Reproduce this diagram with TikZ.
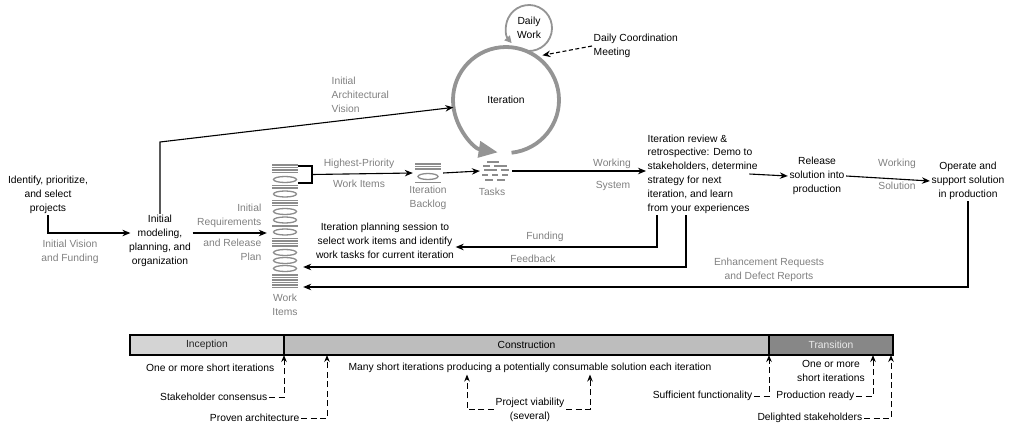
\documentclass[tikz,border=0pt]{standalone}
\usepackage{fontspec}
\setmainfont{Liberation Sans}
\usetikzlibrary{arrows.meta}

\definecolor{lblgray}{gray}{0.5}
\definecolor{icongray}{gray}{0.55}
\definecolor{loopgray}{gray}{0.58}
\definecolor{incepfill}{gray}{0.83}
\definecolor{constfill}{gray}{0.74}
\definecolor{transfill}{gray}{0.53}

\tikzset{
  txt/.style={shape=rectangle, draw=none, align=center, inner sep=1.5pt},
  lbl/.style={txt, text=lblgray},
  flow/.style={-{Stealth[length=8pt,width=6.5pt]}, line width=1.1pt},
  gate/.style={-{Stealth[length=7pt,width=5.5pt]}, line width=1pt, dash pattern=on 6pt off 3.5pt},
  icon/.style={draw=icongray, line width=1.3pt},
  phase/.style={shape=rectangle, draw=black, line width=1.2pt, minimum height=20pt, inner sep=0pt, outer sep=0pt},
}

\begin{document}
\begin{tikzpicture}[x=1pt, y=-1pt, font=\fontsize{10.3}{13.8}\selectfont]
\useasboundingbox (0,0) rectangle (1012,429);
%%%%%%%%%%%%%%%%%%%%%%%%%%%%%%%%%%%%%%%%%%% HELP LINES
%\draw[help lines, step=50] (0,0) grid (1012,429);

%%%%%%%%%%%%%%%%%%%%%%%%%%%%%%%%%%%%%%%%%%% start of the project
\node[txt](ident) at (48,195){Identify, prioritize,\\and select\\projects};
\node[txt](model) at (160,241){Initial\\modeling,\\planning, and\\organization};
\node[lbl](vision) at (70,251.5){Initial Vision\\and Funding};
\node[lbl, anchor=west, align=left](archvis) at (330,95){Initial\\Architectural\\Vision};
\node[lbl, anchor=east, align=right](reqs) at (263,216){Initial\\Requirements};
\node[lbl, anchor=east, align=right](relplan) at (263,250){and Release\\Plan};
\coordinate (archbend) at (160,142);

%%%%%%%%%%%%%%%%%%%%%%%%%%%%%%%%%%%%%%%%%%% work item stack
\node[shape=rectangle, draw=none, minimum width=36pt, minimum height=125pt](wi) at (285,226.5){};
\foreach \y in {165,167.5,170,172.5,185.5,188,200.5,203,205.5,226,238.5,241,243.5,246,275,277.5,280,282.5,285,287.5}
  \draw[icon] (272,\y) -- (298,\y);
\foreach \y in {179.5,194,211.5,220,232,252.5,260.5,268.5}
  \draw[icon] (285,\y) ellipse [x radius=11.5, y radius=3];
\node[lbl](wilbl) at (285,304.5){Work\\Items};
% bracket round the top items
\draw[line width=1.1pt] (298,166) -- (312,166) -- (312,183) -- (298,183);
\coordinate (hp) at (312,174.5);
\node[lbl](hiprio) at (359,164){Highest-Priority};
\node[lbl](hiitems) at (359,184){Work Items};

%%%%%%%%%%%%%%%%%%%%%%%%%%%%%%%%%%%%%%%%%%% backlog and tasks
\node[shape=rectangle, draw=none, minimum width=30pt, minimum height=24pt](backlog) at (428,173){};
\foreach \y in {164,166.5,169,182.5}
  \draw[icon] (415,\y) -- (441,\y);
\draw[icon] (428,176.5) ellipse [x radius=10, y radius=3];
\node[lbl](backlbl) at (428,198){Iteration\\Backlog};

\node[shape=rectangle, draw=none, minimum width=32pt, minimum height=24pt](tasks) at (496,171){};
\draw[icon] (487,162) -- (499,162);
\draw[icon] (483,166) -- (490,166) (494,166) -- (507,166);
\draw[icon] (484,170) -- (497,170) (501,170) -- (509,170);
\draw[icon] (482,175) -- (488,175) (492,175) -- (498,175) (502,175) -- (508,175);
\draw[icon] (485,180) -- (493,180) (497,180) -- (505,180);
\node[lbl](tasklbl) at (492,192){Tasks};

%%%%%%%%%%%%%%%%%%%%%%%%%%%%%%%%%%%%%%%%%%% iteration loops
\node[shape=circle, draw=none, minimum size=106pt, inner sep=0pt](iter) at (506,100){Iteration};
\draw[loopgray, line width=3.8pt, -{Triangle[length=19pt,width=16pt]}] (iter.center) ++(84:53) arc[start angle=84, end angle=-261, radius=53];
\node[txt, shape=circle, minimum size=46pt, inner sep=0pt](daily) at (529,28){Daily\\Work};
\draw[loopgray, line width=1.8pt, -{Triangle[length=7pt,width=7pt]}] (daily.center) ++(-245:23) arc[start angle=-245, end angle=-581, radius=23];
\node[txt, anchor=west, align=left](meet) at (592,46){Daily Coordination\\Meeting};

%%%%%%%%%%%%%%%%%%%%%%%%%%%%%%%%%%%%%%%%%%% review and release
\node[txt, anchor=west, align=left](review) at (646,174){Iteration review \&\\retrospective: Demo to\\stakeholders, determine\\strategy for next\\iteration, and learn\\from your experiences};
\node[lbl](worksys) at (612,164){Working};
\node[lbl](worksys2) at (613,186){System};
\node[txt](plan) at (385,241){Iteration planning session to\\select work items and identify\\work tasks for current iteration};
\node[lbl](fundlbl) at (545,237){Funding};
\node[lbl](feedlbl) at (533,259){Feedback};
\node[txt](release) at (817,176){Release\\solution into\\production};
\node[lbl](worksol) at (897,164){Working};
\node[lbl](worksol2) at (897,186){Solution};
\node[txt](operate) at (968,181){Operate and\\support solution\\in production};
\node[lbl](enhance) at (769,270){Enhancement Requests\\and Defect Reports};

%%%%%%%%%%%%%%%%%%%%%%%%%%%%%%%%%%%%%%%%%%% connectors
\draw[flow] (ident.south) |- ([yshift=8pt,xshift=3pt]model.west);
\draw[flow] (model.north) -- (archbend) -- (iter.188);
\draw[flow] ([yshift=8pt]model.east) -- ([yshift=8pt]model.east -| wi.west);
\draw[flow] (hp) -- (backlog.west);
\draw[flow] (backlog.east) -- (tasks.west);
\draw[flow] (tasks.east) -- (tasks.east -| review.west);
\draw[flow, dash pattern=on 4pt off 2.5pt, shorten >=6pt] (meet.west) -- (iter.55);
\draw[flow] ([xshift=-10pt]review.east) -- (release.west);
\draw[flow] (release.east) -- (operate.west);
\draw[flow] ([xshift=11pt]review.south west) |- ([yshift=-6pt]plan.east);
\draw[flow] ([xshift=40pt]review.south west) |- ([yshift=-40.5pt]wi.east);
\draw[flow] (operate.south) |- ([yshift=-60.5pt]wi.east);

%%%%%%%%%%%%%%%%%%%%%%%%%%%%%%%%%%%%%%%%%%% phases
\node[phase, fill=incepfill, text=black!85, minimum width=154pt](incep) at (207,345){Inception};
\node[phase, fill=constfill, minimum width=485pt](constr) at (526.5,345){Construction};
\node[phase, fill=transfill, text=white!92!black, minimum width=124pt](trans) at (831,345){Transition};

%%%%% milestones
\node[txt, anchor=east](incshort) at (276,368){One or more short iterations};
\node[txt, anchor=east](stake) at (269,397){Stakeholder consensus};
\node[txt, anchor=east](proven) at (301,418){Proven architecture};
\node[txt](many) at (530,368){Many short iterations producing a potentially consumable solution each iteration};
\node[txt](viab) at (530,409.5){Project viability\\(several)};
\node[txt, anchor=east](suff) at (754,396){Sufficient functionality};
\node[txt](transhort) at (831,371){One or more\\short iterations};
\node[txt, anchor=east](prodready) at (856,396){Production ready};
\node[txt, anchor=east](delight) at (864,418){Delighted stakeholders};

\draw[gate] (stake.east) -| (incep.south east);
\draw[gate] (proven.east) -| ([xshift=43pt]constr.south west);
\draw[gate] (viab.west) -| ([xshift=-63pt]many.south);
\draw[gate] (viab.east) -| ([xshift=60pt]many.south);
\draw[gate] (suff.east) -| (constr.south east);
\draw[gate] (prodready.east) -| ([xshift=-20pt]trans.south east);
\draw[gate] (delight.east) -| ([xshift=-2pt]trans.south east);
\end{tikzpicture}
\end{document}
